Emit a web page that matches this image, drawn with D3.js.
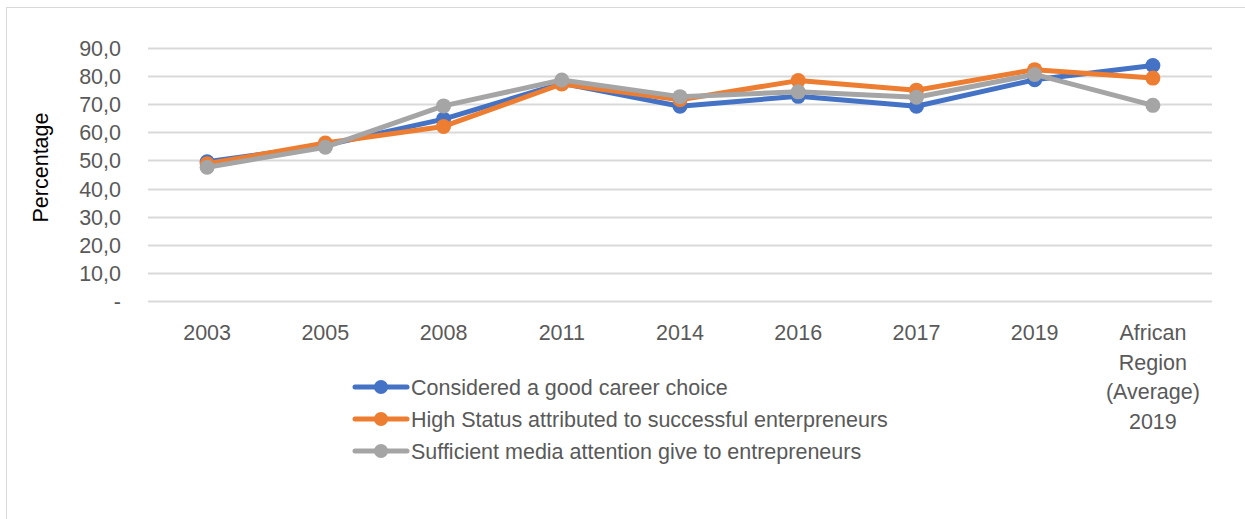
<!DOCTYPE html>
<html>
<head>
<meta charset="utf-8">
<script src="https://cdn.jsdelivr.net/npm/d3@7"></script>
<style>
  html, body { margin: 0; padding: 0; background: #fff; }
  svg { display: block; }
  text { font-family: "Liberation Sans", Arial, sans-serif; }
</style>
</head>
<body>
<svg id="chart" width="1245" height="519"></svg>
<script>
// Entrepreneurial attitudes over time
const categories = ["2003", "2005", "2008", "2011", "2014", "2016", "2017", "2019", "African Region (Average) 2019"];
const categoryLines = [["2003"], ["2005"], ["2008"], ["2011"], ["2014"], ["2016"], ["2017"], ["2019"], ["African", "Region", "(Average)", "2019"]];
const seriesNames = [
  "Considered a good career choice",
  "High Status attributed to successful enterpreneurs",
  "Sufficient media attention give to entrepreneurs"
];
const goodCareer   = [49.5, 55.4, 64.7, 77.4, 69.3, 72.8, 69.3, 78.7, 83.8];
const highStatus   = [48.8, 56.2, 62.1, 77.2, 71.6, 78.4, 75.0, 82.3, 79.3];
const mediaAttn    = [47.6, 54.7, 69.4, 78.6, 72.7, 74.4, 72.5, 80.6, 69.6];
const yTicks = [0, 10, 20, 30, 40, 50, 60, 70, 80, 90];
const colors = ["#4472C4", "#ED7D31", "#A5A5A5"];

const series = [goodCareer, highStatus, mediaAttn];
const FS = 21.5;

const svg = d3.select("#chart");

// outer chart frame
svg.append("rect")
  .attr("x", 6.5).attr("y", 7.5)
  .attr("width", 1300).attr("height", 600)
  .attr("fill", "none").attr("stroke", "#D9D9D9").attr("stroke-width", 1);

const plot = { left: 148, right: 1212, top: 48, bottom: 301 };

const x = d3.scaleBand().domain(categories).range([plot.left, plot.right]);
const y = d3.scaleLinear().domain([0, 90]).range([plot.bottom, plot.top]);

// horizontal gridlines
svg.append("g")
  .selectAll("line")
  .data(yTicks)
  .join("line")
  .attr("x1", plot.left).attr("x2", plot.right)
  .attr("y1", d => Math.round(y(d)) + 0.5).attr("y2", d => Math.round(y(d)) + 0.5)
  .attr("stroke", "#D9D9D9").attr("stroke-width", 2);

// y axis tick labels
const fmt = d => d === 0 ? "-" : d.toFixed(1).replace(".", ",");
const yAxis = d3.axisLeft(y).tickValues(yTicks).tickFormat(fmt).tickSize(0).tickPadding(0);
const yg = svg.append("g").attr("transform", `translate(${plot.left - 27},0)`).call(yAxis);
yg.select(".domain").remove();
yg.selectAll("text")
  .attr("fill", "#595959").attr("font-size", FS).attr("dy", "0.35em")
  .attr("x", 0);

// y axis title
svg.append("text")
  .attr("transform", `translate(48,${(plot.top + plot.bottom) / 2 - 7}) rotate(-90)`)
  .attr("text-anchor", "middle")
  .attr("font-size", FS).attr("fill", "#000")
  .text("Percentage");

// category labels
const xg = svg.append("g");
categories.forEach((c, i) => {
  const t = xg.append("text")
    .attr("x", x(c) + x.bandwidth() / 2)
    .attr("y", 340)
    .attr("text-anchor", "middle")
    .attr("font-size", FS).attr("fill", "#595959");
  categoryLines[i].forEach((ln, j) => {
    t.append("tspan")
      .attr("x", x(c) + x.bandwidth() / 2)
      .attr("dy", j === 0 ? 0 : 29.5)
      .text(ln);
  });
});

// series lines and markers
const cx = (d, i) => x(categories[i]) + x.bandwidth() / 2;
const line = d3.line().x((d, i) => cx(d, i)).y(d => y(d));

series.forEach((vals, s) => {
  const g = svg.append("g");
  g.append("path")
    .datum(vals)
    .attr("d", line)
    .attr("fill", "none")
    .attr("stroke", colors[s])
    .attr("stroke-width", 5)
    .attr("stroke-linejoin", "round")
    .attr("stroke-linecap", "round");
  g.selectAll("circle")
    .data(vals)
    .join("circle")
    .attr("cx", (d, i) => cx(d, i))
    .attr("cy", d => y(d))
    .attr("r", 7.5)
    .attr("fill", colors[s]);
});

// legend
const legend = svg.append("g");
seriesNames.forEach((name, s) => {
  const ly = 387 + s * 32;
  legend.append("line")
    .attr("x1", 355).attr("x2", 407)
    .attr("y1", ly).attr("y2", ly)
    .attr("stroke", colors[s]).attr("stroke-width", 5)
    .attr("stroke-linecap", "round");
  legend.append("circle")
    .attr("cx", 381).attr("cy", ly).attr("r", 7)
    .attr("fill", colors[s]);
  legend.append("text")
    .attr("x", 411).attr("y", ly).attr("dy", "0.35em")
    .attr("font-size", FS).attr("fill", "#595959")
    .text(name);
});
</script>
</body>
</html>
